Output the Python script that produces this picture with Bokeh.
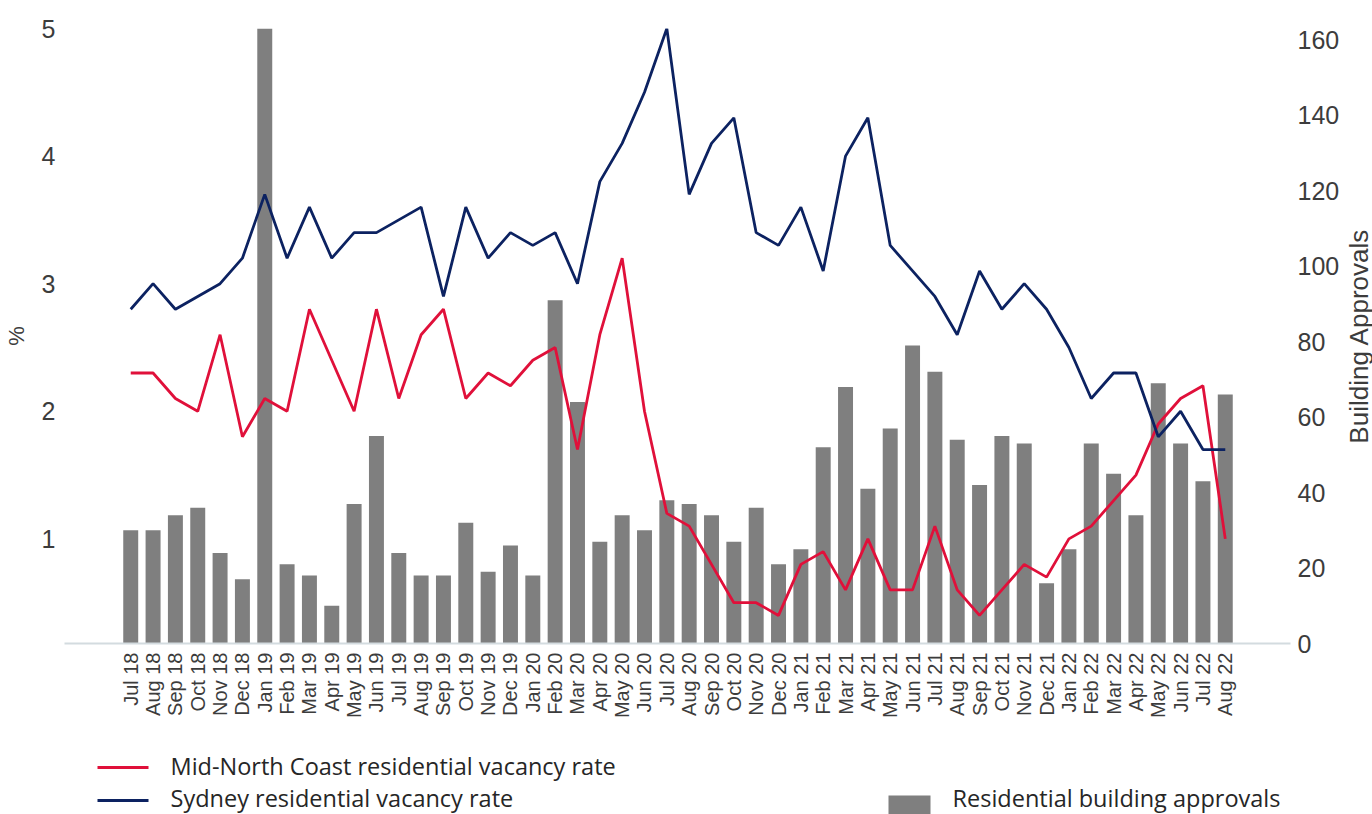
import math
from bokeh.plotting import figure
from bokeh.models import Range1d, LinearAxis, FixedTicker, ColumnDataSource
from bokeh.layouts import column, row
from bokeh.embed import file_html
from bokeh.resources import INLINE
from bokeh.core.properties import value

# ---------------- data ----------------
months = ["Jul 18", "Aug 18", "Sep 18", "Oct 18", "Nov 18", "Dec 18",
          "Jan 19", "Feb 19", "Mar 19", "Apr 19", "May 19", "Jun 19",
          "Jul 19", "Aug 19", "Sep 19", "Oct 19", "Nov 19", "Dec 19",
          "Jan 20", "Feb 20", "Mar 20", "Apr 20", "May 20", "Jun 20",
          "Jul 20", "Aug 20", "Sep 20", "Oct 20", "Nov 20", "Dec 20",
          "Jan 21", "Feb 21", "Mar 21", "Apr 21", "May 21", "Jun 21",
          "Jul 21", "Aug 21", "Sep 21", "Oct 21", "Nov 21", "Dec 21",
          "Jan 22", "Feb 22", "Mar 22", "Apr 22", "May 22", "Jun 22",
          "Jul 22", "Aug 22"]

approvals = [30, 30, 34, 36, 24, 17, 165, 21, 18, 10,
             37, 55, 24, 18, 18, 32, 19, 26, 18, 91,
             64, 27, 34, 30, 38, 37, 34, 27, 36, 21,
             25, 52, 68, 41, 57, 79, 72, 54, 42, 55,
             53, 16, 25, 53, 45, 34, 69, 53, 43, 66]

mnc_vacancy = [2.3, 2.3, 2.1, 2.0, 2.6, 1.8, 2.1, 2.0, 2.8, 2.4,
               2.0, 2.8, 2.1, 2.6, 2.8, 2.1, 2.3, 2.2, 2.4, 2.5,
               1.7, 2.6, 3.2, 2.0, 1.2, 1.1, 0.8, 0.5, 0.5, 0.4,
               0.8, 0.9, 0.6, 1.0, 0.6, 0.6, 1.1, 0.6, 0.4, 0.6,
               0.8, 0.7, 1.0, 1.1, 1.3, 1.5, 1.9, 2.1, 2.2, 1.0]

syd_vacancy = [2.8, 3.0, 2.8, 2.9, 3.0, 3.2, 3.7, 3.2, 3.6, 3.2,
               3.4, 3.4, 3.5, 3.6, 2.9, 3.6, 3.2, 3.4, 3.3, 3.4,
               3.0, 3.8, 4.1, 4.5, 5.0, 3.7, 4.1, 4.3, 3.4, 3.3,
               3.6, 3.1, 4.0, 4.3, 3.3, 3.1, 2.9, 2.6, 3.1, 2.8,
               3.0, 2.8, 2.5, 2.1, 2.3, 2.3, 1.8, 2.0, 1.7, 1.7]

left_ticks = [1, 2, 3, 4, 5]
right_ticks = [0, 20, 40, 60, 80, 100, 120, 140, 160]
series_names = ["Mid-North Coast residential vacancy rate",
                "Sydney residential vacancy rate",
                "Residential building approvals"]
right_title = "Building Approvals"

RED = "#e0103a"
NAVY = "#0c2261"
GREY = "#7f7f7f"
TICK_COL = "#3c3c3c"
FONT = "Liberation Sans"

xs = list(range(len(months)))
src = ColumnDataSource(dict(x=xs, month=months, approvals=approvals,
                            mnc=mnc_vacancy, syd=syd_vacancy))

# ---------------- main chart ----------------
p = figure(width=1342, height=745, output_backend="svg", toolbar_location=None,
           x_range=Range1d(-2.965, 51.92), y_range=Range1d(0.18, 5.0),
           min_border_left=62, min_border_right=49, min_border_top=28,
           min_border_bottom=102, background_fill_color="white",
           border_fill_color="white")
p.outline_line_color = None
p.xgrid.visible = False
p.ygrid.visible = False
p.extra_y_ranges = {"bars": Range1d(0, 163)}

p.vbar(x="x", top="approvals", width=0.67, source=src, y_range_name="bars",
       fill_color=GREY, line_color=None)
p.line("x", "mnc", source=src, color=RED, line_width=2.8)
p.line("x", "syd", source=src, color=NAVY, line_width=2.8)

# x axis
xa = p.xaxis[0]
xa.ticker = FixedTicker(ticks=xs)
xa.major_label_overrides = {i: m for i, m in enumerate(months)}
xa.major_label_orientation = math.pi / 2
xa.major_label_text_font = FONT
xa.major_label_text_font_size = "20px"
xa.major_label_text_color = TICK_COL
xa.axis_line_color = "#d3dbdf"
xa.axis_line_width = 2
xa.major_tick_line_color = None
xa.minor_tick_line_color = None
xa.major_tick_out = 0
xa.major_tick_in = 0
xa.major_label_standoff = 9

# left axis
ya = p.yaxis[0]
ya.ticker = FixedTicker(ticks=left_ticks)
ya.axis_label = "%"
ya.axis_label_text_font = FONT
ya.axis_label_text_font_style = "normal"
ya.axis_label_text_font_size = "22px"
ya.axis_label_text_color = TICK_COL
ya.axis_label_standoff = 10
ya.major_label_text_font = FONT
ya.major_label_text_font_size = "25px"
ya.major_label_text_color = TICK_COL
ya.axis_line_color = None
ya.major_tick_line_color = None
ya.minor_tick_line_color = None
ya.major_tick_out = 0
ya.major_tick_in = 0
ya.major_label_standoff = 9

# right axis (its title is drawn in the narrow strip beside the chart)
ra = LinearAxis(y_range_name="bars", ticker=FixedTicker(ticks=right_ticks))
ra.major_label_text_font = FONT
ra.major_label_text_font_size = "25px"
ra.major_label_text_color = TICK_COL
ra.axis_line_color = None
ra.major_tick_line_color = None
ra.minor_tick_line_color = None
ra.major_tick_out = 0
ra.major_tick_in = 0
ra.major_label_standoff = 7
p.add_layout(ra, "right")

# ---------------- right title strip ----------------
side = figure(width=30, height=745, output_backend="svg", toolbar_location=None,
              x_range=Range1d(0, 30), y_range=Range1d(643, 28),
              x_axis_location=None, y_axis_location=None,
              min_border_left=0, min_border_right=0, min_border_top=28,
              min_border_bottom=102,
              background_fill_color="white", border_fill_color="white")
side.outline_line_color = None
side.xgrid.visible = False
side.ygrid.visible = False
side.text(x=[16], y=[335.5], text=[right_title], angle=math.pi / 2,
          text_align="center", text_baseline="middle",
          text_font=value(FONT), text_font_size="26px", text_color=TICK_COL)

# ---------------- legend strip ----------------
lg = figure(width=1372, height=69, output_backend="svg", toolbar_location=None,
            x_range=Range1d(62, 1293), y_range=Range1d(69, 0),
            x_axis_location=None, y_axis_location=None,
            min_border_left=62, min_border_right=79, min_border_top=0,
            min_border_bottom=0,
            background_fill_color="white", border_fill_color="white")
lg.outline_line_color = None
lg.xgrid.visible = False
lg.ygrid.visible = False

LEG_FONT = value("Open Sans")
LEG_SIZE = "23.5px"
lg.line([97, 148], [22, 22], color=RED, line_width=3)
lg.text(x=[170], y=[20], text=[series_names[0]], text_font=LEG_FONT,
        text_font_size=LEG_SIZE, text_baseline="middle", text_color="#262626")
lg.line([97, 148], [55, 55], color=NAVY, line_width=3)
lg.text(x=[170], y=[52], text=[series_names[1]], text_font=LEG_FONT,
        text_font_size=LEG_SIZE, text_baseline="middle", text_color="#262626")
lg.quad(left=[888], right=[930], top=[50], bottom=[72], fill_color=GREY,
        line_color=None)
lg.text(x=[952], y=[52], text=[series_names[2]], text_font=LEG_FONT,
        text_font_size=LEG_SIZE, text_baseline="middle", text_color="#262626")

layout = column(row(p, side, spacing=0), lg, spacing=0)
open("out.html", "w").write(file_html(layout, INLINE))
